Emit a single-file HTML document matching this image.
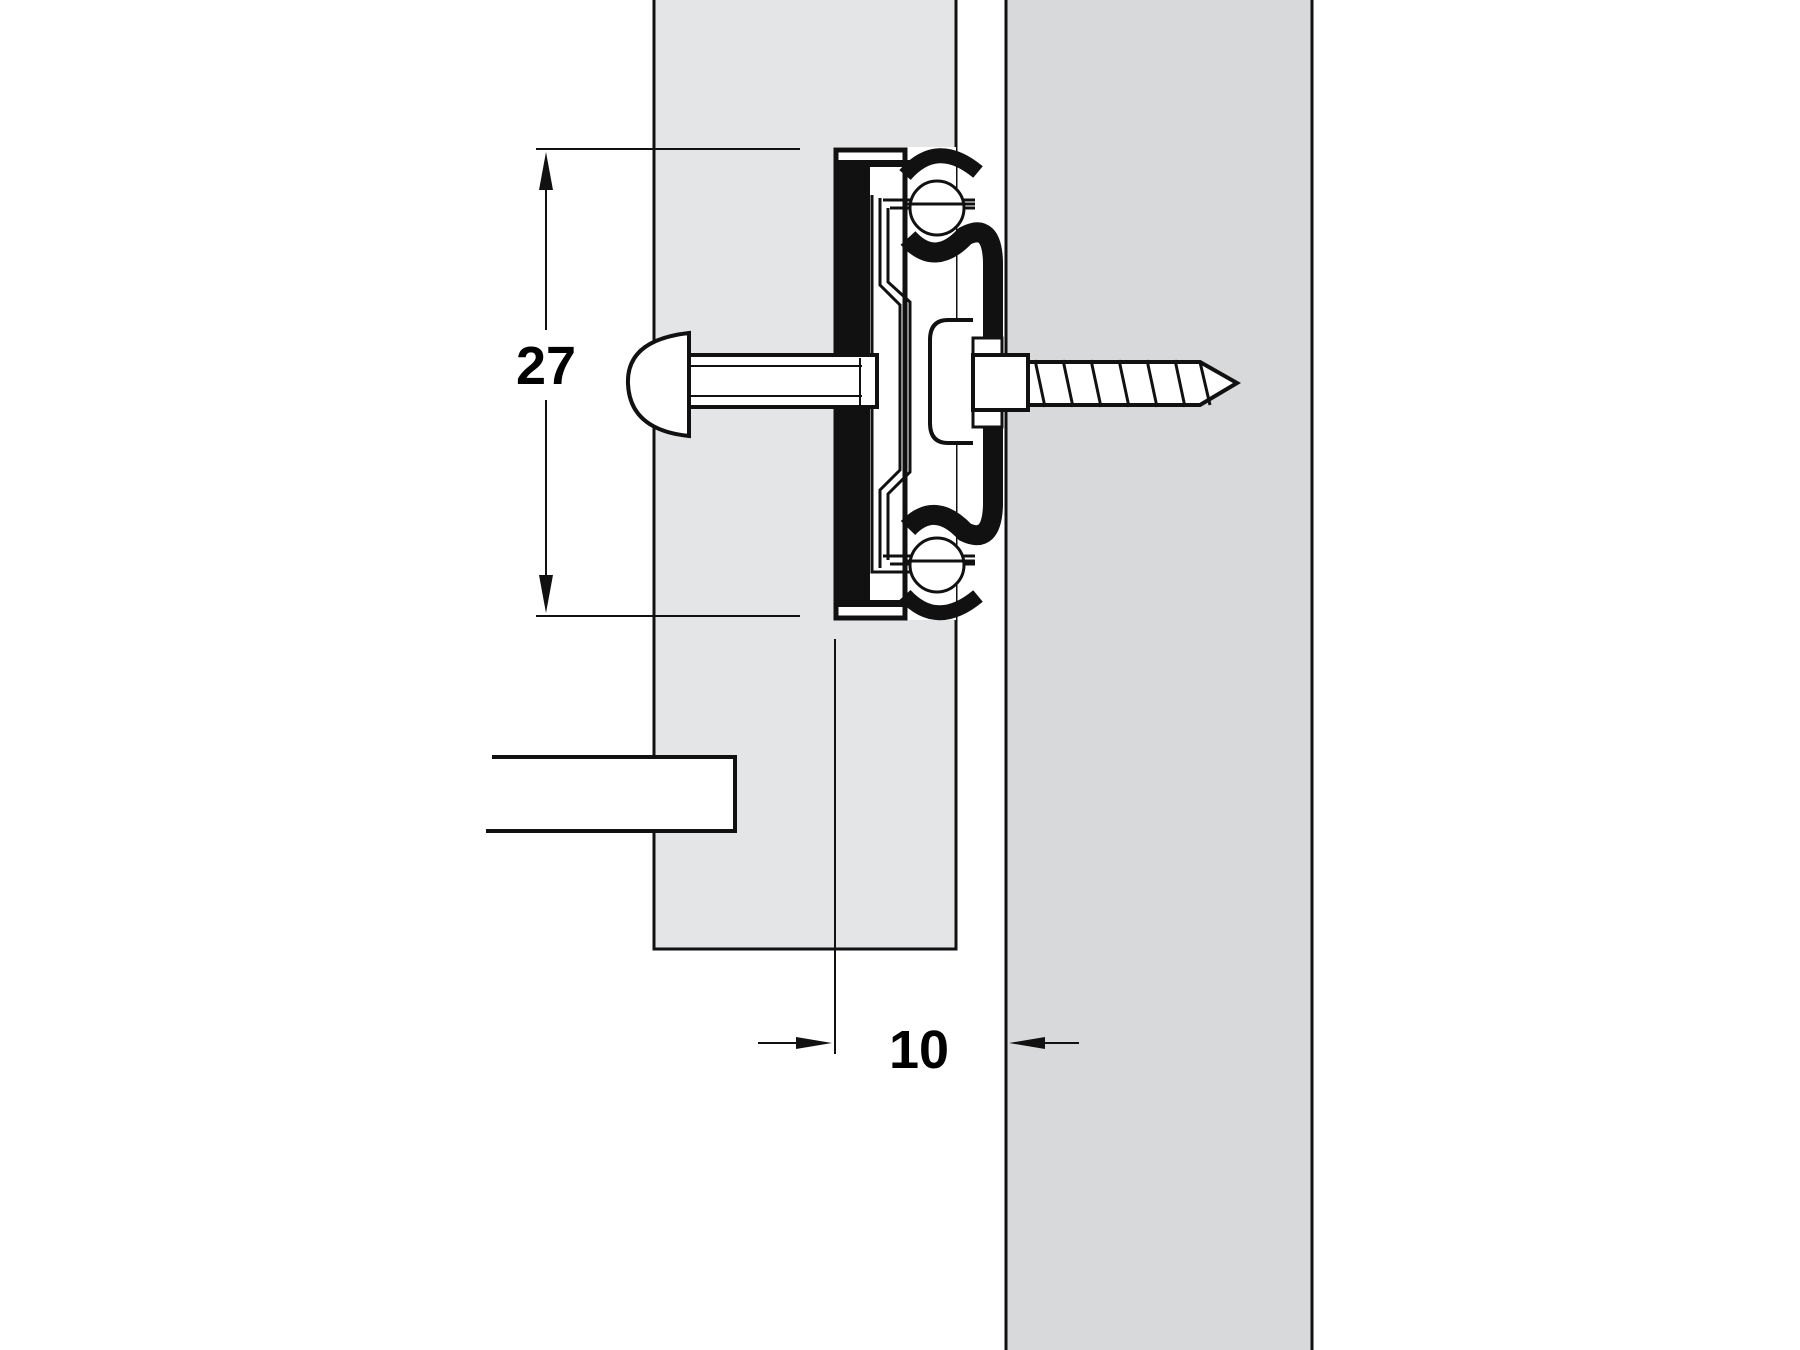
<!DOCTYPE html>
<html><head><meta charset="utf-8"><style>
html,body{margin:0;padding:0;background:#fff;width:1800px;height:1350px;overflow:hidden}
svg{display:block}
text{font-family:"Liberation Sans",Arial,sans-serif;font-weight:bold}
</style></head><body>
<svg width="1800" height="1350" viewBox="0 0 1800 1350" xmlns="http://www.w3.org/2000/svg">
<rect x="1006" y="-5" width="306" height="1360" fill="#d8d9db" stroke="#111" stroke-width="3"/>
<path d="M654,0 V949 H956 V0" fill="#e4e5e7" stroke="#111" stroke-width="3"/>
<rect x="488" y="755" width="247" height="78" fill="#fff"/>
<path d="M492,757 H735 V831 H486" fill="none" stroke="#111" stroke-width="4"/>
<line x1="536" y1="149" x2="800" y2="149" stroke="#111" stroke-width="2"/>
<line x1="536" y1="616" x2="800" y2="616" stroke="#111" stroke-width="2"/>
<line x1="546" y1="185" x2="546" y2="330" stroke="#111" stroke-width="2"/>
<line x1="546" y1="400" x2="546" y2="580" stroke="#111" stroke-width="2"/>
<polygon points="546,152 539,190 553,190" fill="#111"/>
<polygon points="546,613 539,575 553,575" fill="#111"/>
<text x="546" y="384" font-size="54" text-anchor="middle">27</text>
<rect x="834" y="147" width="122" height="473" fill="#fff"/>
<path d="M836,150 H905 V618 H836 Z" fill="none" stroke="#111" stroke-width="5"/>
<rect x="836" y="162" width="34" height="444" fill="#111"/>
<rect x="836" y="160" width="80" height="7" fill="#111"/>
<rect x="836" y="600" width="80" height="7" fill="#111"/>
<polyline points="872,195 872,572 920,572" fill="none" stroke="#111" stroke-width="3"/>
<polyline points="880,198 880,285 900,305 900,470 880,490 880,568" fill="none" stroke="#111" stroke-width="3"/>
<polyline points="888,208 888,282 910,302 910,472 888,494 888,560" fill="none" stroke="#111" stroke-width="3"/>
<polyline points="883,200 975,200" fill="none" stroke="#111" stroke-width="3"/>
<polyline points="890,208 975,208" fill="none" stroke="#111" stroke-width="3"/>
<polyline points="883,556 975,556" fill="none" stroke="#111" stroke-width="3"/>
<polyline points="890,564 975,564" fill="none" stroke="#111" stroke-width="3"/>
<path d="M908,238 Q935,268 965,236 Q992,222 993,262 V505 Q992,545 965,532 Q935,500 908,528" fill="none" stroke="#111" stroke-width="20"/>
<path d="M905,175 Q937,138 978,172" fill="none" stroke="#111" stroke-width="15"/>
<path d="M905,595 Q937,630 978,596" fill="none" stroke="#111" stroke-width="15"/>
<circle cx="937" cy="208" r="27" fill="#fff" stroke="#111" stroke-width="3"/>
<circle cx="937" cy="565" r="27" fill="#fff" stroke="#111" stroke-width="3"/>
<line x1="905" y1="204" x2="975" y2="204" stroke="#111" stroke-width="3"/>
<line x1="905" y1="561" x2="975" y2="561" stroke="#111" stroke-width="3"/>
<path d="M973,320 H948 Q930,320 930,340 V423 Q930,443 948,443 H973" fill="#fff" stroke="#111" stroke-width="4"/>
<rect x="973" y="338" width="29" height="89" fill="#fff" stroke="#111" stroke-width="3"/>
<rect x="973" y="355" width="55" height="55" fill="#fff" stroke="#111" stroke-width="4"/>
<path d="M1028,362 H1200 L1237,383 L1200,405 H1028 Z" fill="#fff" stroke="#111" stroke-width="4"/>
<g stroke="#111" stroke-width="3">
<line x1="1035" y1="360" x2="1045" y2="407"/><line x1="1063" y1="360" x2="1073" y2="407"/>
<line x1="1091" y1="360" x2="1101" y2="407"/><line x1="1119" y1="360" x2="1129" y2="407"/>
<line x1="1147" y1="360" x2="1157" y2="407"/><line x1="1175" y1="360" x2="1185" y2="407"/>
<line x1="1200" y1="362" x2="1210" y2="405"/>
</g>
<rect x="680" y="355" width="197" height="52" fill="#fff" stroke="#111" stroke-width="4"/>
<line x1="680" y1="366" x2="862" y2="366" stroke="#111" stroke-width="2"/>
<line x1="680" y1="396" x2="862" y2="396" stroke="#111" stroke-width="2"/>
<line x1="860" y1="358" x2="860" y2="405" stroke="#111" stroke-width="2"/>
<path d="M689,333 Q626,340 628,384 Q630,430 689,436 Z" fill="#fff" stroke="#111" stroke-width="4"/>
<line x1="835" y1="639" x2="835" y2="1054" stroke="#111" stroke-width="2"/>
<line x1="758" y1="1043" x2="800" y2="1043" stroke="#111" stroke-width="2"/>
<polygon points="832,1043 796,1037 796,1049" fill="#111"/>
<line x1="1040" y1="1043" x2="1079" y2="1043" stroke="#111" stroke-width="2"/>
<polygon points="1009,1043 1045,1037 1045,1049" fill="#111"/>
<text x="919" y="1068" font-size="54" text-anchor="middle">10</text>
</svg>
</body></html>
